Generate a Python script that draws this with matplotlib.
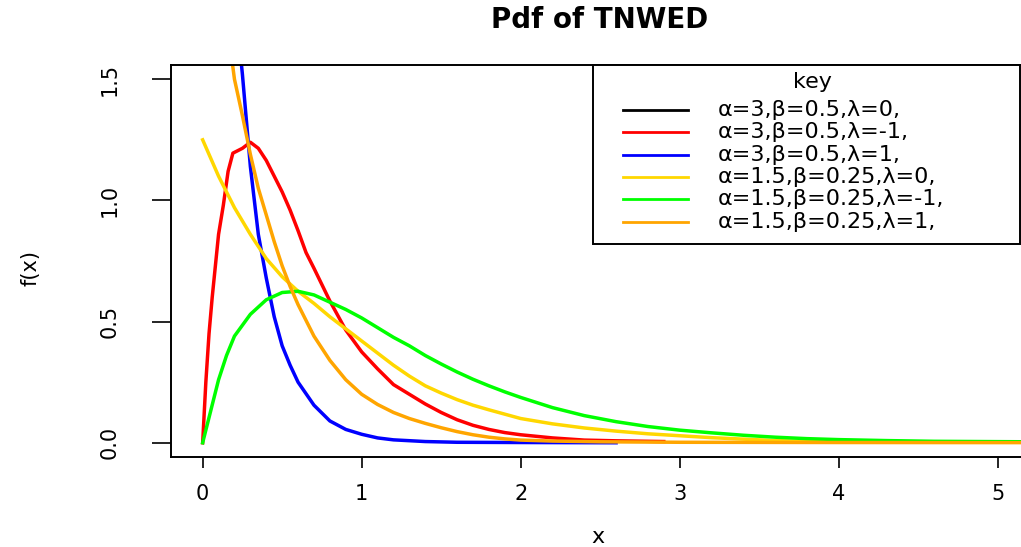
import numpy as np
import matplotlib.pyplot as plt
from matplotlib.lines import Line2D
from matplotlib.patches import Rectangle

# legend labels and colours (black curve is hidden in the original)
labels = ["α=3,β=0.5,λ=0,", "α=3,β=0.5,λ=-1,", "α=3,β=0.5,λ=1,",
          "α=1.5,β=0.25,λ=0,", "α=1.5,β=0.25,λ=-1,", "α=1.5,β=0.25,λ=1,"]
colors = ["black", "#FF0000", "#0000FF", "#FFD700", "#00FF00", "#FFA500"]

# alpha=3, beta=0.5, lambda=-1
red_x = [0.0, 0.02, 0.04, 0.06, 0.08, 0.10, 0.13, 0.16, 0.19, 0.25, 0.30, 0.35,
         0.40, 0.45, 0.50, 0.55, 0.60, 0.65, 0.70, 0.80, 0.90, 1.00, 1.10, 1.20,
         1.30, 1.40, 1.50, 1.60, 1.70, 1.80, 1.90, 2.00, 2.20, 2.40, 2.60, 2.90]
red_y = [0.0, 0.25, 0.45, 0.60, 0.73, 0.86, 0.98, 1.12, 1.195, 1.215, 1.24, 1.215,
         1.165, 1.10, 1.035, 0.96, 0.875, 0.785, 0.72, 0.585, 0.465, 0.375, 0.305, 0.24,
         0.20, 0.16, 0.125, 0.095, 0.072, 0.055, 0.042, 0.033, 0.02, 0.011, 0.008, 0.005]

# alpha=3, beta=0.5, lambda=1
blue_x = [0.20, 0.25, 0.30, 0.35, 0.40, 0.45, 0.50, 0.55, 0.60, 0.70, 0.80, 0.90,
          1.00, 1.10, 1.20, 1.40, 1.60, 2.00, 2.60]
blue_y = [1.85, 1.52, 1.14, 0.86, 0.68, 0.52, 0.40, 0.32, 0.25, 0.155, 0.09, 0.055,
          0.035, 0.02, 0.012, 0.005, 0.002, 0.001, 0.0]

# alpha=1.5, beta=0.25, lambda=0
gold_x = [0.0, 0.1, 0.2, 0.3, 0.4, 0.5, 0.6, 0.7, 0.8, 0.9, 1.0, 1.1, 1.2, 1.3,
          1.4, 1.5, 1.6, 1.7, 1.8, 1.9, 2.0, 2.2, 2.4, 2.6, 2.8, 3.0, 3.2, 3.4,
          3.6, 3.8, 4.0, 4.5, 5.2]
gold_y = [1.25, 1.10, 0.97, 0.86, 0.76, 0.685, 0.625, 0.575, 0.52, 0.47, 0.42, 0.37,
          0.32, 0.275, 0.235, 0.205, 0.178, 0.155, 0.136, 0.118, 0.10, 0.078, 0.061,
          0.048, 0.037, 0.029, 0.021, 0.015, 0.009, 0.006, 0.004, 0.003, 0.002]

# alpha=1.5, beta=0.25, lambda=-1
green_x = [0.0, 0.05, 0.1, 0.15, 0.2, 0.3, 0.4, 0.5, 0.6, 0.7, 0.8, 0.9, 1.0, 1.1,
           1.2, 1.3, 1.4, 1.5, 1.6, 1.7, 1.8, 1.9, 2.0, 2.2, 2.4, 2.6, 2.8, 3.0,
           3.2, 3.4, 3.6, 3.8, 4.0, 4.3, 4.6, 5.2]
green_y = [0.0, 0.13, 0.26, 0.36, 0.44, 0.53, 0.59, 0.62, 0.625, 0.61, 0.58, 0.55,
           0.515, 0.475, 0.435, 0.40, 0.36, 0.325, 0.292, 0.262, 0.235, 0.21, 0.187,
           0.145, 0.112, 0.087, 0.067, 0.052, 0.041, 0.031, 0.023, 0.017, 0.013,
           0.009, 0.006, 0.004]

# alpha=1.5, beta=0.25, lambda=1
orange_x = [0.10, 0.15, 0.20, 0.25, 0.30, 0.35, 0.40, 0.45, 0.50, 0.55, 0.60, 0.70,
            0.80, 0.90, 1.00, 1.10, 1.20, 1.30, 1.40, 1.50, 1.60, 1.70, 1.80, 1.90,
            2.00, 2.20, 2.50, 3.00, 4.00, 5.20]
orange_y = [2.1, 1.75, 1.50, 1.35, 1.19, 1.05, 0.94, 0.83, 0.73, 0.645, 0.57, 0.44,
            0.34, 0.26, 0.20, 0.158, 0.125, 0.10, 0.08, 0.062, 0.046, 0.033, 0.023,
            0.016, 0.011, 0.007, 0.004, 0.002, 0.001, 0.0005]

series = [(red_x, red_y), (blue_x, blue_y), (gold_x, gold_y),
          (green_x, green_y), (orange_x, orange_y)]

plt.rcParams['font.family'] = ['DejaVu Sans']

W, H = 1021, 547
fig = plt.figure(figsize=(W / 100, H / 100), dpi=100)
ax = fig.add_axes([170.7 / W, 1 - 457.3 / H, (1030 - 170.7) / W, (457.3 - 64.7) / H])

for (xs, ys), c in zip(series, colors[1:]):
    ax.plot(xs, ys, color=c, lw=2.5)

ax.set_xlim(-0.201, 5.203)
ax.set_ylim(-0.060, 1.560)
ax.set_xticks([0, 1, 2, 3, 4, 5])
ax.set_yticks([0.0, 0.5, 1.0, 1.5])
ax.set_yticklabels(["0.0", "0.5", "1.0", "1.5"], rotation=90, va='center')
ax.tick_params(axis='x', length=8, width=1.2, pad=11, labelsize=15)
ax.tick_params(axis='y', length=14, width=1.2, pad=23, labelsize=15)
for s in ax.spines.values():
    s.set_linewidth(1.4)

fig.text(30 / W, 1 - 268 / H, "f(x)", rotation=90, ha='center', va='center', fontsize=15)
fig.text(598 / W, 1 - 537 / H, "x", ha='center', va='center', fontsize=16)
fig.text(600 / W, 1 - 20 / H, "Pdf of TNWED", ha='center', va='center',
         fontsize=20, fontweight='bold')

# legend box drawn in figure pixels
def fx(px):
    return px / W

def fy(py):
    return 1 - py / H

fig.patches.append(Rectangle((fx(592.7), fy(244.3)), fx(1020) - fx(592.7),
                             fy(64.5) - fy(244.3), transform=fig.transFigure,
                             facecolor='white', edgecolor='black', lw=1.4, zorder=5))
fig.text(fx(812), fy(81.7), "key", ha='center', va='center', fontsize=16, zorder=6)
for i, (lab, c) in enumerate(zip(labels, colors)):
    yy = fy(110 + 22.3 * i)
    fig.add_artist(Line2D([fx(623), fx(688)], [yy, yy], color=c, lw=2.0,
                          transform=fig.transFigure, zorder=6))
    fig.text(fx(718), yy, lab, ha='left', va='center', fontsize=16, zorder=6)

fig.savefig("out.png", dpi=100)
